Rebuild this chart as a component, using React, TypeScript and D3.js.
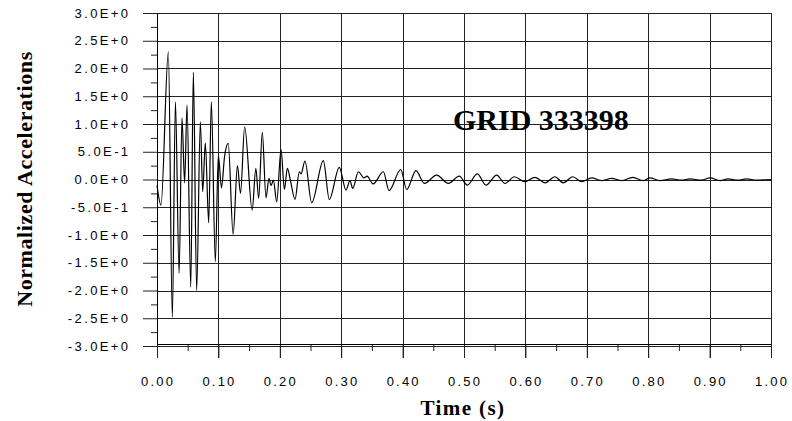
import React, { useEffect, useRef } from "react";
import * as d3 from "d3";

const timeS = [
  0.0, 0.0065, 0.0185, 0.025, 0.03, 0.036, 0.0407, 0.045, 0.0489, 0.055,
  0.0592, 0.0646, 0.0706, 0.0744, 0.0787, 0.0842, 0.0885, 0.095, 0.0999, 0.105,
  0.11, 0.116, 0.124, 0.131, 0.136, 0.1428, 0.155, 0.161, 0.1656, 0.1715,
  0.1775, 0.1824, 0.1857, 0.1895, 0.195, 0.202, 0.2075, 0.2123, 0.2177, 0.2248,
  0.2318, 0.2345, 0.241, 0.252, 0.2709, 0.2806, 0.2969, 0.3078, 0.3143, 0.3187,
  0.328, 0.337, 0.342, 0.352, 0.3686, 0.378, 0.397, 0.4067, 0.4218, 0.4354,
  0.4555, 0.4745, 0.4923, 0.5054, 0.5217, 0.5358, 0.5532, 0.5668, 0.582, 0.599,
  0.6156, 0.632, 0.648, 0.6617, 0.677, 0.6917, 0.708, 0.7243, 0.7406, 0.7568,
  0.7748, 0.792, 0.803, 0.819, 0.838, 0.8546, 0.868, 0.887, 0.9007, 0.917,
  0.93, 0.9463, 0.96, 0.9767, 1.0,
];
const accel = [
  -0.1, -0.46, 2.3, -2.48, 1.4, -1.69, 1.11, -0.06, 1.34, -1.94,
  1.93, -2.0, 1.04, -0.22, 0.66, -0.78, 1.4, -1.48, 0.44, -0.15,
  0.41, 0.65, -0.99, 0.25, -0.25, 0.95, -0.55, 0.2, -0.34, 0.85,
  -0.33, 0.02, -0.11, -0.01, -0.4, 0.54, -0.18, 0.2, -0.04, -0.36,
  0.14, 0.1, 0.33, -0.42, 0.34, -0.36, 0.22, -0.19, -0.02, -0.16,
  0.14, 0.03, 0.06, -0.08, 0.14, -0.2, 0.18, -0.18, 0.16, -0.07,
  0.08, -0.07, 0.06, -0.1, 0.1, -0.1, 0.08, -0.07, 0.05, -0.04,
  0.04, -0.06, 0.05, -0.06, 0.05, -0.04, 0.03, -0.02, 0.02, -0.02,
  0.04, -0.02, 0.03, -0.02, 0.01, -0.01, 0.01, -0.01, 0.03, -0.02,
  0.01, -0.01, 0.01, -0.01, 0.0,
];

const yTickValues = [3.0, 2.5, 2.0, 1.5, 1.0, 0.5, 0.0, -0.5, -1.0, -1.5, -2.0, -2.5, -3.0];
const yTickLabels = [
  "3.0E+0", "2.5E+0", "2.0E+0", "1.5E+0", "1.0E+0", "5.0E-1", "0.0E+0",
  "-5.0E-1", "-1.0E+0", "-1.5E+0", "-2.0E+0", "-2.5E+0", "-3.0E+0",
];
const yMinorValues = [2.75, 2.25, 1.75, 1.25, 0.75, 0.25, -0.25, -0.75, -1.25, -1.75, -2.25, -2.75];
const xTickValues = [0, 0.1, 0.2, 0.3, 0.4, 0.5, 0.6, 0.7, 0.8, 0.9, 1.0];
const xTickLabels = ["0.00", "0.10", "0.20", "0.30", "0.40", "0.50", "0.60", "0.70", "0.80", "0.90", "1.00"];
const xMinorValues = [0.05, 0.15, 0.25, 0.35, 0.45, 0.55, 0.65, 0.75, 0.85, 0.95];

const title = "GRID 333398";

const W = 792;
const H = 421;

const App = () => {
  const svgRef = useRef<SVGSVGElement>(null);

  useEffect(() => {
    const svg = d3.select(svgRef.current);
    svg.selectAll("*").remove();

    const x = d3.scaleLinear().domain([0, 1]).range([157, 771]);
    const y = d3.scaleLinear().domain([-3, 3]).range([346, 13]);
    const px = (v: number) => Math.round(v) + 0.5;
    const gridColor = "#222";
    const tickFont = "'Liberation Sans', Arial, sans-serif";
    const labelFont = "'Liberation Serif', 'Times New Roman', serif";

    // grid
    svg.append("g")
      .selectAll("line")
      .data(yTickValues)
      .join("line")
      .attr("x1", (d) => (d === -3 ? 143 : 157))
      .attr("x2", 771)
      .attr("y1", (d) => px(y(d)))
      .attr("y2", (d) => px(y(d)))
      .attr("stroke", gridColor)
      .attr("stroke-width", 1);

    svg.append("g")
      .selectAll("line")
      .data(xTickValues.filter((d) => d > 0))
      .join("line")
      .attr("x1", (d) => px(x(d)))
      .attr("x2", (d) => px(x(d)))
      .attr("y1", 13)
      .attr("y2", 358)
      .attr("stroke", gridColor)
      .attr("stroke-width", 1);

    // y axis ticks
    const yAxis = d3.axisLeft(y).tickValues(yTickValues).tickSize(14).tickFormat(() => "");
    const yMinor = d3.axisLeft(y).tickValues(yMinorValues).tickSize(6).tickFormat(() => "");
    svg.append("g").attr("transform", "translate(157,0)").call(yAxis).call((g) => g.select(".domain").remove());
    svg.append("g").attr("transform", "translate(157,0)").call(yMinor).call((g) => g.select(".domain").remove());
    svg.append("line")
      .attr("x1", 157.5).attr("x2", 157.5)
      .attr("y1", 13).attr("y2", 358)
      .attr("stroke", "#000");

    // x axis
    const xAxis = d3.axisBottom(x).tickValues(xTickValues).tickSize(14).tickFormat(() => "");
    const xMinor = d3.axisBottom(x).tickValues(xMinorValues).tickSize(7).tickFormat(() => "");
    svg.append("g").attr("transform", "translate(0,344)").call(xAxis).call((g) => g.select(".domain").remove());
    svg.append("g").attr("transform", "translate(0,344)").call(xMinor).call((g) => g.select(".domain").remove());
    svg.append("line")
      .attr("x1", 157).attr("x2", 771)
      .attr("y1", 344.5).attr("y2", 344.5)
      .attr("stroke", "#000");

    svg.selectAll(".tick line").attr("stroke", gridColor);

    // tick labels
    svg.append("g")
      .selectAll("text")
      .data(yTickValues)
      .join("text")
      .attr("x", 130.5)
      .attr("y", (d) => y(d) + 4.5)
      .attr("text-anchor", "end")
      .attr("font-family", tickFont)
      .attr("font-size", 13)
      .attr("letter-spacing", 2.4)
      .attr("fill", "#000")
      .text((d, i) => yTickLabels[i]);

    svg.append("g")
      .selectAll("text")
      .data(xTickValues)
      .join("text")
      .attr("x", (d) => x(d) + 1.1)
      .attr("y", 386)
      .attr("text-anchor", "middle")
      .attr("font-family", tickFont)
      .attr("font-size", 13)
      .attr("letter-spacing", 2.2)
      .attr("fill", "#000")
      .text((d, i) => xTickLabels[i]);

    // signal
    const line = d3.line<number>()
      .x((d, i) => x(timeS[i]))
      .y((d) => y(d))
      .curve(d3.curveMonotoneX);

    svg.append("path")
      .datum(accel)
      .attr("d", line)
      .attr("fill", "none")
      .attr("stroke", "#000")
      .attr("stroke-width", 1.2);

    // labels
    svg.append("text")
      .attr("x", 453)
      .attr("y", 130)
      .attr("font-family", labelFont)
      .attr("font-weight", "bold")
      .attr("font-size", 30)
      .attr("fill", "#000")
      .text(title);

    svg.append("text")
      .attr("x", 463)
      .attr("y", 415)
      .attr("text-anchor", "middle")
      .attr("font-family", labelFont)
      .attr("font-weight", "bold")
      .attr("font-size", 21)
      .attr("letter-spacing", 1.4)
      .attr("fill", "#000")
      .text("Time (s)");

    svg.append("text")
      .attr("transform", "translate(32,179) rotate(-90)")
      .attr("text-anchor", "middle")
      .attr("font-family", labelFont)
      .attr("font-weight", "bold")
      .attr("font-size", 22)
      .attr("letter-spacing", 0.6)
      .attr("fill", "#000")
      .text("Normalized Accelerations");
  }, []);

  return (
    <div>
      <svg
        ref={svgRef}
        width={W}
        height={H}
        style={{ position: "absolute", left: 0, top: 0, background: "#fff" }}
      />
    </div>
  );
};

export default App;
